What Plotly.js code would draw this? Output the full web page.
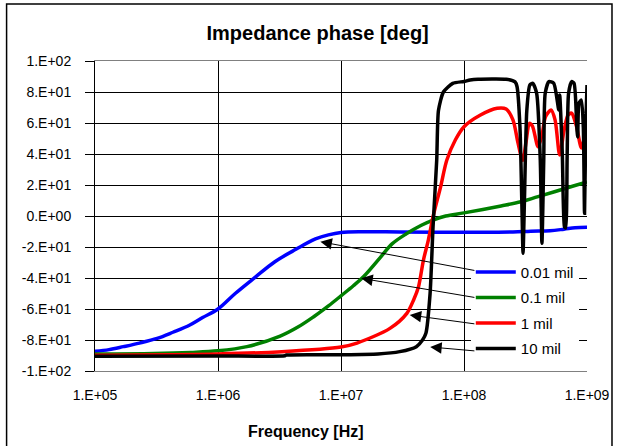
<!DOCTYPE html>
<html>
<head>
<meta charset="utf-8">
<script src="https://cdn.plot.ly/plotly-3.0.1.min.js"></script>
<style>html,body{margin:0;padding:0;background:#fff;}#chart{width:618px;height:446px;}</style>
</head>
<body>
<div id="chart"></div>
<script>
// Series names
const seriesNames = ["0.01 mil", "0.1 mil", "1 mil", "10 mil"];

// 0.01 mil (blue)
const freqBlue = [1e5, 1.3e5, 1.7e5, 2.3e5, 3.2e5, 4.3e5, 5.9e5, 7.5e5, 1e6, 1.38e6, 2.0e6, 2.9e6, 4.3e6, 6.2e6, 7.9e6, 1e7, 1.5e7, 3e7, 1e8, 2.5e8, 3.5e8, 5e8, 6.5e8, 8e8, 1e9];
const phaseBlue = [-87.3, -86.2, -84.3, -82, -79, -75, -70.3, -65.5, -60, -50, -39.6, -29.5, -21.5, -14.8, -12.2, -10.7, -10.2, -10.3, -10.5, -10.3, -9.8, -9.5, -8.5, -7.6, -7.3];

// 0.1 mil (green)
const freqGreen = [1e5, 3e5, 6e5, 1e6, 1.72e6, 3.2e6, 4.5e6, 6e6, 7.9e6, 1e7, 1.26e7, 1.53e7, 2.1e7, 2.6e7, 3.4e7, 4.5e7, 5.6e7, 7.1e7, 1e8, 2e8, 2.9e8, 4e8, 7.5e8, 1e9];
const phaseGreen = [-89, -88.7, -88, -87, -84.3, -77.5, -71.5, -65, -58, -51.5, -45, -39, -26.5, -18, -11.5, -6, -2.6, 0, 2, 6.5, 9.2, 12.5, 19, 22];

// 1 mil (red)
const freqRed = [1e5, 1e6, 3.3e6, 1e7, 1.35e7, 2.5e7, 3.43e7, 3.9e7, 4.27e7, 4.68e7, 5.13e7, 5.62e7, 6.46e7, 7.24e7, 8.5e7, 1e8, 1.35e8, 1.86e8, 2.2e8, 2.5e8, 2.75e8, 3.0e8, 3.2e8, 3.4e8, 3.6e8, 4.0e8, 4.3e8, 4.6e8, 5.1e8, 5.5e8, 6.0e8, 6.5e8, 7.0e8, 7.5e8, 8.2e8, 9.0e8, 9.5e8, 1e9];
const phaseRed = [-89.8, -89, -87.5, -84.5, -82, -72.5, -62.8, -54, -45.6, -28.4, -15.5, 0, 19, 36, 49, 57.6, 65, 69.5, 69, 62, 47, 36, 48, 59.8, 58, 44.7, 52, 64, 68.4, 62, 39.4, 55, 65, 66.3, 58, 43.9, 50, 55.5];

// 10 mil (black)
const freqBlack = [1e5, 1e6, 3.5e6, 3.6e6, 1e7, 2e7, 3e7, 4.1e7, 4.6e7, 4.9e7, 5.3e7, 5.6e7, 6.0e7, 6.2e7, 6.8e7, 8.1e7, 1e8, 1.12e8, 1.3e8, 2.2e8, 2.6e8, 2.7e8, 2.85e8, 2.95e8, 3.02e8, 3.1e8, 3.24e8, 3.43e8, 3.63e8, 3.9e8, 4.17e8, 4.3e8, 4.45e8, 4.57e8, 4.9e8, 5.37e8, 5.9e8, 6.0e8, 6.3e8, 6.56e8, 6.7e8, 6.9e8, 7.08e8, 7.5e8, 7.85e8, 8.26e8, 8.4e8, 8.6e8, 9.0e8, 9.33e8, 9.55e8, 9.77e8, 1e9];
const phaseBlack = [-90.5, -90.3, -90.2, -89.7, -89.5, -89, -87.5, -84.3, -80, -75.7, -50, -7, 36, 68, 80, 85.6, 86.8, 87.7, 88.2, 88.2, 86.5, 83.4, 57.6, 10, -24, 10, 68, 84.5, 85.6, 79, 36, -17.6, 36, 79, 86.7, 85.6, 68.4, 78, 40, -7, -7.8, 40, 79, 86.7, 85.6, 57.6, 51, 72.7, 74.8, 57.6, 1.7, 57.6, 84.5];

// Axis ticks
const xTickVals = [1e5, 1e6, 1e7, 1e8, 1e9];
const xTickText = ["1.E+05", "1.E+06", "1.E+07", "1.E+08", "1.E+09"];
const yTickVals = [-100, -80, -60, -40, -20, 0, 20, 40, 60, 80, 100];
const yTickText = ["-1.E+02", "-8.E+01", "-6.E+01", "-4.E+01", "-2.E+01", "0.E+00", "2.E+01", "4.E+01", "6.E+01", "8.E+01", "1.E+02"];

// Arrow annotation anchors (tip on curve, tail at legend)
const arrowTipFreq = [6.8e6, 1.46e7, 3.62e7, 5.31e7];
const arrowTipPhase = [-16.6, -40.2, -63.9, -84.5];
const arrowTailFreq = [1.25e8, 1.25e8, 1.25e8, 1.25e8];
const arrowTailPhase = [-35.3, -52.7, -69.7, -87.1];

const colors = ["#0000ff", "#008000", "#ff0000", "#000000"];
const smooth = [1.0, 1.0, 0.8, 0.6];
const xs = [freqBlue, freqGreen, freqRed, freqBlack];
const ys = [phaseBlue, phaseGreen, phaseRed, phaseBlack];

const FONT = "Arial, 'Liberation Sans', sans-serif";

const traces = seriesNames.map((n, i) => ({
  x: xs[i], y: ys[i], name: n, type: "scatter", mode: "lines",
  line: {color: colors[i], width: 3.5, shape: "spline", smoothing: smooth[i]},
  legendgroup: "g" + i
}));

const annotations = seriesNames.map((n, i) => ({
  x: Math.log10(arrowTipFreq[i]), y: arrowTipPhase[i],
  ax: Math.log10(arrowTailFreq[i]), ay: arrowTailPhase[i],
  xref: "x", yref: "y", axref: "x", ayref: "y",
  text: "", showarrow: true, arrowhead: 2, arrowsize: 2.3, arrowwidth: 1,
  arrowcolor: "#000", standoff: 0
}));
annotations.push({
  text: "<b>Frequency [Hz]</b>", xref: "paper", yref: "paper",
  x: 0.4284, y: -0.196, xanchor: "center", yanchor: "middle",
  showarrow: false, font: {family: FONT, size: 16, color: "#000"}
});

const layout = {
  width: 618, height: 446,
  margin: {l: 95, r: 31, t: 61, b: 75},
  paper_bgcolor: "#fff", plot_bgcolor: "#fff",
  font: {family: FONT, size: 14, color: "#000"},
  title: {text: "<b>Impedance phase [deg]</b>", x: 0.514, xref: "container", xanchor: "center",
          y: 0.926, yref: "container", yanchor: "middle", font: {family: FONT, size: 20, color: "#000"}},
  xaxis: {type: "log", range: [5, 9], tickvals: xTickVals, ticktext: xTickText,
          showgrid: true, gridcolor: "#000", gridwidth: 1, showline: true, linecolor: "#808080", linewidth: 1,
          mirror: true, ticks: "", ticklabelstandoff: 11, zeroline: false,
          tickfont: {family: FONT, size: 14, color: "#000"}},
  yaxis: {range: [-100, 100], tickvals: yTickVals, ticktext: yTickText,
          showgrid: true, gridcolor: "#000", gridwidth: 1, showline: true, linecolor: "#000", linewidth: 1,
          ticks: "outside", ticklen: 9, tickcolor: "#000", ticklabelstandoff: 11, zeroline: false,
          tickfont: {family: FONT, size: 14, color: "#000"}},
  showlegend: true,
  legend: {x: 0.7638, xanchor: "left", y: 0.372, yanchor: "top", bgcolor: "#fff", borderwidth: 0,
           font: {family: FONT, size: 15, color: "#000"}, traceorder: "grouped", tracegroupgap: 3, itemwidth: 40},
  annotations: annotations,
  shapes: [{type: "rect", xref: "paper", yref: "paper", x0: -0.1797, x1: 1.0508, y0: -0.3, y1: 1.1839,
            line: {color: "#000", width: 1.5}, fillcolor: "rgba(0,0,0,0)"}]
};

Plotly.newPlot("chart", traces, layout, {displayModeBar: false, staticPlot: true});
</script>
</body>
</html>
